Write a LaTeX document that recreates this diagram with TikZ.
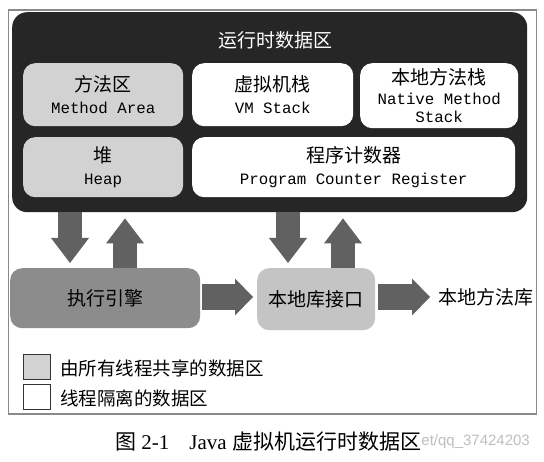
\documentclass[tikz,border=0pt]{standalone}
\usepackage{fontspec}
\setmainfont{Liberation Serif}
\newfontfamily\cjk{Noto Sans CJK SC}
\newfontfamily\mono{Liberation Mono}
\newfontfamily\wmfont{Liberation Sans}
\usetikzlibrary{arrows.meta,calc}
\definecolor{darkbg}{HTML}{262626}
\definecolor{shared}{HTML}{D2D2D2}
\definecolor{enginec}{HTML}{8C8C8C}
\definecolor{libc}{HTML}{C4C4C4}
\definecolor{arrowc}{HTML}{616161}
\definecolor{framec}{HTML}{8A8A8A}
\newcommand{\zh}[1]{{\cjk\fontsize{19}{18}\selectfont #1}}
\newcommand{\en}[1]{{\mono\fontsize{15.8}{18}\selectfont #1}}
\begin{document}
\begin{tikzpicture}[x=1pt,y=-1pt,
  areabox/.style={rounded corners=12pt, inner sep=0pt, align=center, anchor=north west,
    font=\fontsize{15.8}{18}\selectfont},
  sharedbox/.style={areabox, fill=shared},
  threadbox/.style={areabox, fill=white},
  vtext/.style={align=center, inner sep=0pt},
  bigarrowv/.style={draw=arrowc, line width=24pt,
    -{Triangle[width=38pt,length=25pt,line width=0pt]}},
  bigarrowh/.style={draw=arrowc, line width=26pt,
    -{Triangle[width=37pt,length=18pt,line width=0pt]}},
  legendbox/.style={draw=black!80, line width=1.2pt, minimum width=27pt, minimum height=25pt, inner sep=0pt, anchor=north west},
  legendtext/.style={anchor=west, inner sep=0pt, font=\cjk\fontsize{18.5}{18.5}\selectfont}
]
\useasboundingbox[fill=white] (0,0) rectangle (544,462);

% outer frame
\node[draw=framec, line width=1.3pt, minimum width=528pt, minimum height=404pt, anchor=north west, inner sep=0pt] (frame) at (7.5,9.5) {};

% runtime data area
\node[fill=darkbg, rounded corners=15pt, minimum width=515pt, minimum height=200pt, anchor=north west, inner sep=0pt] (rt) at (12,12) {};
\node[vtext, text=white] (title) at ($(rt.north)+(6,28)$) {\zh{运行时数据区}};

\node[sharedbox, minimum width=160pt, minimum height=63pt] (ma) at (23,63)
  {\zh{方法区}\\[4pt]\en{Method Area}};
\node[threadbox, minimum width=161pt, minimum height=63pt] (vm) at (192,63)
  {\zh{虚拟机栈}\\[4pt]\en{VM Stack}};
\node[threadbox, minimum width=158pt, minimum height=65pt] (ns) at (360,63)
  {\zh{本地方法栈}\\[2pt]\en{Native Method}\\[0pt]\en{Stack}};
\node[sharedbox, minimum width=160pt, minimum height=60pt] (heap) at (23,137)
  {\zh{堆}\\[4pt]\en{Heap}};
\node[threadbox, minimum width=323pt, minimum height=60pt] (pc) at (192,137)
  {\zh{程序计数器}\\[4pt]\en{Program Counter Register}};

% execution engine and native interface
\node[fill=enginec, rounded corners=12pt, minimum width=190pt, minimum height=60pt, anchor=north west, inner sep=0pt, text=black] (engine) at (10,268)
  {\zh{执行引擎}};
\node[fill=libc, rounded corners=12pt, minimum width=118pt, minimum height=62pt, anchor=north west, inner sep=0pt] (nif) at (257,268)
  {\zh{本地库接口}};
\node[anchor=west, inner sep=0pt] (nlib) at (438,297) {\zh{本地方法库}};

% arrow positions
\coordinate (a1) at (70,0);
\coordinate (a2) at (125,0);
\coordinate (a3) at (288,0);
\coordinate (a4) at (343,0);

\draw[bigarrowv, shorten >=5pt] (a1 |- rt.south) -- (a1 |- engine.north);
\draw[bigarrowv, shorten >=6pt] (a2 |- engine.north) -- (a2 |- rt.south);
\draw[bigarrowv, shorten >=5pt] (a3 |- rt.south) -- (a3 |- nif.north);
\draw[bigarrowv, shorten >=6pt] (a4 |- nif.north) -- (a4 |- rt.south);

\draw[bigarrowh, shorten <=2pt, shorten >=4pt] (engine.east |- 0,297) -- (nif.west |- 0,297);
\draw[bigarrowh, shorten <=3pt, shorten >=8pt] (nif.east |- 0,297) -- (nlib.west);

% legend
\node[legendbox, fill=shared] (lg1) at (23,354) {};
\node[legendtext] (lt1) at ($(lg1.east)+(9,1)$) {由所有线程共享的数据区};
\node[legendbox, fill=white] (lg2) at (23,384) {};
\node[legendtext] (lt2) at ($(lg2.east)+(9,1)$) {线程隔离的数据区};

% caption
\node[anchor=west, inner sep=0pt] (cap) at (115,442)
  {\fontsize{21}{21}\selectfont{\cjk 图} 2-1\hspace{20pt}Java {\cjk 虚拟机运行时数据区}};
\node[anchor=west, inner sep=0pt, text=black!25] (wm) at (cap.east)
  {\wmfont\fontsize{15}{15}\selectfont et/qq\_37424203};
\end{tikzpicture}
\end{document}
